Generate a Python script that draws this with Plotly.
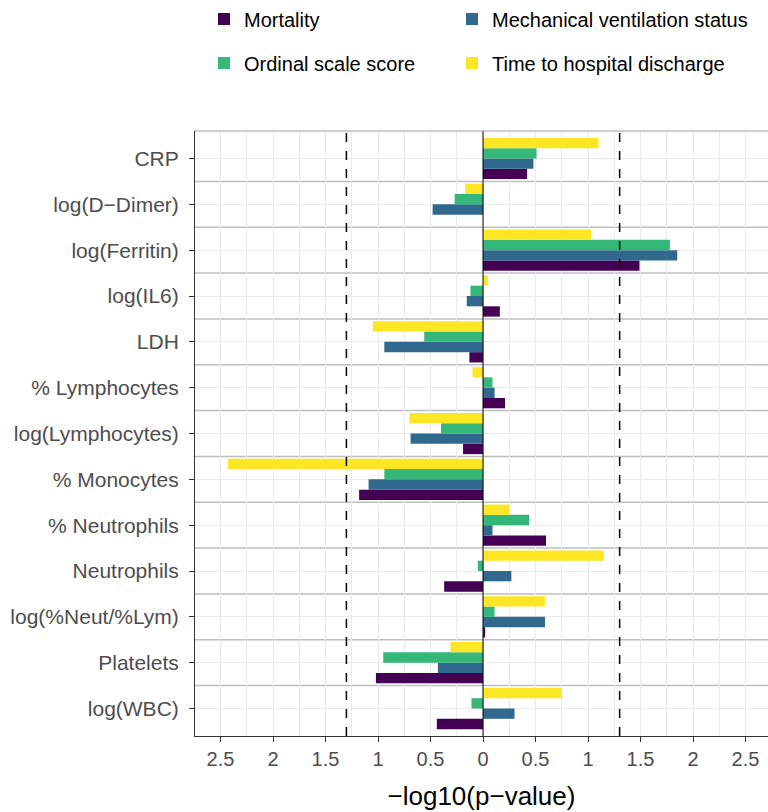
import plotly.graph_objects as go
import math

categories = ["CRP", "log(D\u2212Dimer)", "log(Ferritin)", "log(IL6)", "LDH", "% Lymphocytes",
              "log(Lymphocytes)", "% Monocytes", "% Neutrophils", "Neutrophils",
              "log(%Neut/%Lym)", "Platelets", "log(WBC)"]

mortality = [0.42, 0.0, 1.49, 0.16, -0.13, 0.21, -0.19, -1.18, 0.60, -0.37, 0.02, -1.02, -0.44]
mech_vent = [0.48, -0.48, 1.85, -0.155, -0.94, 0.11, -0.69, -1.09, 0.09, 0.27, 0.59, -0.43, 0.30]
ordinal = [0.51, -0.27, 1.78, -0.12, -0.56, 0.09, -0.40, -0.94, 0.44, -0.05, 0.11, -0.95, -0.11]
discharge = [1.10, -0.17, 1.03, 0.045, -1.05, -0.10, -0.70, -2.43, 0.25, 1.15, 0.59, -0.31, 0.75]

series_names = ["Mortality", "Mechanical ventilation status", "Ordinal scale score",
                "Time to hospital discharge"]
series_values = [mortality, mech_vent, ordinal, discharge]
series_colors = ["#440154", "#31688E", "#35B779", "#FDE725"]
legend_ids = ["legend", "legend2", "legend3", "legend4"]

tick_vals = [-2.5, -2, -1.5, -1, -0.5, 0, 0.5, 1, 1.5, 2, 2.5]
tick_text = ["2.5", "2", "1.5", "1", "0.5", "0", "0.5", "1", "1.5", "2", "2.5"]

threshold = -math.log10(0.05)

FONT = "Liberation Sans, Arial, Helvetica, sans-serif"

fig = go.Figure()
for name, vals, col, lg in zip(series_names, series_values, series_colors, legend_ids):
    fig.add_trace(go.Bar(
        y=categories, x=vals, orientation="h", name=name, showlegend=True,
        marker=dict(color=col, line=dict(width=0)), legend=lg,
    ))

n = len(categories)
shapes = []
for i in range(n - 1):
    shapes.append(dict(type="line", xref="paper", x0=0, x1=1, yref="y", y0=i + 0.5, y1=i + 0.5,
                       line=dict(color="#BEBEBE", width=1.5), layer="below"))
for xv in (-threshold, threshold):
    shapes.append(dict(type="line", xref="x", x0=xv, x1=xv, yref="paper", y0=0, y1=1,
                       line=dict(color="black", width=1.5, dash="dash"), layer="above"))
shapes.append(dict(type="line", xref="x", x0=0, x1=0, yref="paper", y0=0, y1=1,
                   line=dict(color="black", width=1), layer="above"))
shapes.append(dict(type="line", xref="paper", x0=0, x1=1, yref="paper", y0=1, y1=1,
                   line=dict(color="#9E9E9E", width=1), layer="above"))


def legend_box(xpx, ypx):
    return dict(orientation="h", xref="container", yref="container",
                x=xpx / 768, y=1 - ypx / 812, xanchor="left", yanchor="middle",
                font=dict(size=20, color="black"), bgcolor="rgba(0,0,0,0)")


fig.update_layout(
    width=768, height=812,
    margin=dict(l=195, r=0, t=131, b=76),
    paper_bgcolor="white", plot_bgcolor="white",
    font=dict(family=FONT, size=20, color="black"),
    barmode="group", bargap=0.1, bargroupgap=0,
    showlegend=True,
    shapes=shapes,
    legend=legend_box(204, 19),
    legend2=legend_box(452, 19),
    legend3=legend_box(204, 63),
    legend4=legend_box(452, 63),
    xaxis=dict(
        range=[-2.743, 2.714], tickvals=tick_vals, ticktext=tick_text,
        showgrid=True, gridcolor="#EBEBEB", gridwidth=1,
        minor=dict(dtick=0.25, showgrid=True, gridcolor="#EBEBEB", gridwidth=0.6),
        zeroline=False, showline=True, linecolor="#333333", linewidth=1,
        ticks="outside", ticklen=5, tickcolor="#333333",
        tickfont=dict(size=20, color="#4D4D4D"), ticklabelstandoff=0,
        title=dict(text="\u2212log10(p\u2212value)", font=dict(size=26, color="black"), standoff=17),
    ),
    yaxis=dict(
        categoryorder="array", categoryarray=categories[::-1], range=[-0.6, n - 0.4],
        showgrid=True, gridcolor="#EBEBEB", gridwidth=1,
        zeroline=False, showline=True, linecolor="#333333", linewidth=1,
        ticks="outside", ticklen=5, tickcolor="#333333",
        tickfont=dict(size=21, color="#4D4D4D"), ticklabelstandoff=6,
    ),
)

fig.write_html("out.html", config={"displayModeBar": False},
               post_script="document.body.style.margin='0';")
